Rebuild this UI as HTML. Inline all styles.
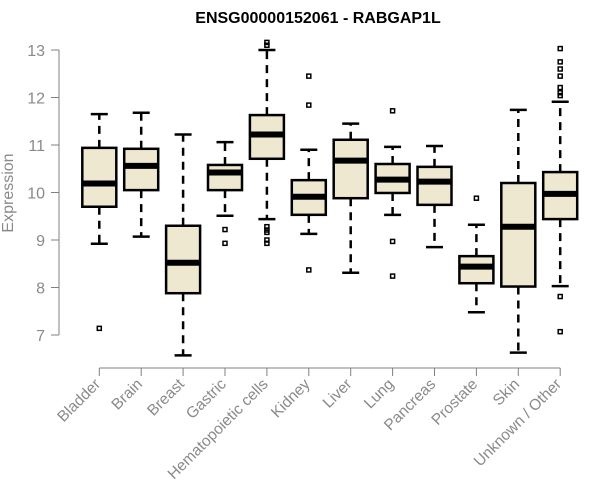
<!DOCTYPE html>
<html><head><meta charset="utf-8"><style>
body{margin:0;background:#fff}
svg{display:block;font-family:"Liberation Sans",Arial,sans-serif}
</style></head><body>
<svg id="chart" width="600" height="500">
<text x="318" y="23" text-anchor="middle" font-weight="bold" font-size="16">ENSG00000152061 - RABGAP1L</text>
<text transform="translate(13,193) rotate(-90)" text-anchor="middle" font-size="16" fill="#8a8a8a">Expression</text>
<g id="plot"></g>
</svg>
<script>
const categories=["Bladder","Brain","Breast","Gastric","Hematopoietic cells","Kidney","Liver","Lung","Pancreas","Prostate","Skin","Unknown / Other"];
const whiskerLow=[8.92,9.07,6.57,9.51,9.44,9.13,8.31,9.53,8.85,7.48,6.63,8.03];
const q1=[9.70,10.05,7.88,10.05,10.71,9.53,9.88,9.99,9.74,8.09,8.02,9.44];
const medians=[10.19,10.56,8.52,10.42,11.22,9.91,10.67,10.27,10.23,8.44,9.28,9.97];
const q3=[10.94,10.92,9.30,10.58,11.63,10.26,11.11,10.60,10.54,8.66,10.20,10.43];
const whiskerHigh=[11.65,11.68,11.22,11.06,13.0,10.90,11.45,10.96,10.98,9.32,11.74,11.91];
const outliers=[[7.14],[],[],[9.22,8.93],[13.16,13.10,9.28,9.21,9.16,9.0,8.93],[12.45,11.84,8.37],[],[11.72,8.97,8.24],[],[9.88],[],[13.03,12.75,12.6,12.45,12.21,12.1,12.04,7.81,7.07]];
const yTicks=[7,8,9,10,11,12,13];

const NS="http://www.w3.org/2000/svg";
const g=document.getElementById('plot');
const y=v=>335-(v-7)*47.5;
const x=i=>99.3+i*41.9;
const bw=34;
function mk(t,a,p){const e=document.createElementNS(NS,t);for(const k in a)e.setAttribute(k,a[k]);(p||g).appendChild(e);return e;}

const ya=mk('line',{x1:59,x2:59,y1:y(7),y2:y(13),stroke:'#808080'});


yTicks.forEach(v=>{
  const t=mk('line',{x1:51,x2:59,y1:y(v),y2:y(v),stroke:'#808080'});
  
  
  const l=mk('text',{x:45,y:y(v)+6,'text-anchor':'end','font-size':16,fill:'#8a8a8a'});
  l.textContent=v;
  
  
});
const xa=mk('line',{x1:x(0),x2:x(categories.length-1),y1:368,y2:368,stroke:'#808080'});



categories.forEach((c,i)=>{
  const cx=x(i);
  const tk=mk('line',{x1:cx,x2:cx,y1:368,y2:376,stroke:'#808080'});
  
  
  const lb=mk('text',{transform:`translate(${cx+2},${385}) rotate(-45)`,'text-anchor':'end','font-size':15.5,fill:'#8a8a8a'});
  lb.textContent=c;
  
  
  const grp=mk('g',{});
  
  
  const s={stroke:'#000','stroke-width':2.5,'stroke-dasharray':'8,6'};
  mk('line',Object.assign({x1:cx,x2:cx,y1:y(q3[i]),y2:y(whiskerHigh[i])},s),grp);
  mk('line',Object.assign({x1:cx,x2:cx,y1:y(q1[i]),y2:y(whiskerLow[i])},s),grp);
  mk('line',{x1:cx-8.5,x2:cx+8.5,y1:y(whiskerHigh[i]),y2:y(whiskerHigh[i]),stroke:'#000','stroke-width':2.5},grp);
  mk('line',{x1:cx-8.5,x2:cx+8.5,y1:y(whiskerLow[i]),y2:y(whiskerLow[i]),stroke:'#000','stroke-width':2.5},grp);
  mk('rect',{x:cx-bw/2,y:y(q3[i]),width:bw,height:y(q1[i])-y(q3[i]),fill:'#ede8cf',stroke:'#000','stroke-width':2.5},grp);
  mk('line',{x1:cx-bw/2,x2:cx+bw/2,y1:y(medians[i]),y2:y(medians[i]),stroke:'#000','stroke-width':6},grp);
  outliers[i].forEach(v=>{
    const o=mk('rect',{x:cx-2,y:y(v)-2,width:4,height:4,fill:'none',stroke:'#000','stroke-width':1.5},grp);
    
    
  });
});
</script>
</body></html>
